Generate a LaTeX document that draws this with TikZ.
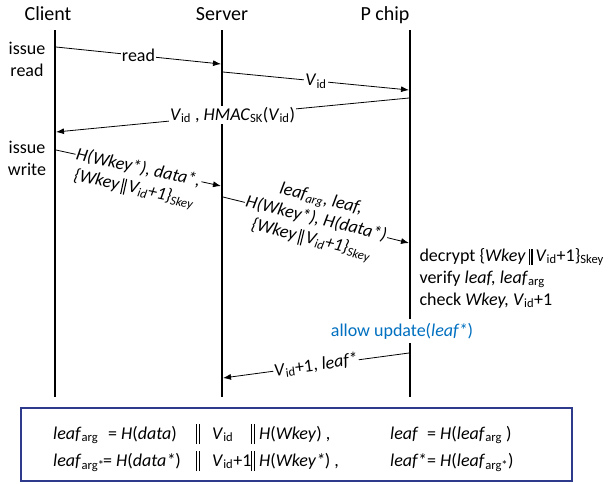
\documentclass[tikz,border=0pt]{standalone}
\usepackage{fontspec}
\setmainfont{Carlito}
\usetikzlibrary{arrows.meta}
\definecolor{boxblue}{RGB}{46,58,140}
\definecolor{updblue}{RGB}{0,112,192}
\newcommand{\dbar}{\rule[-3.5pt]{1.1pt}{16pt}\hspace{1.6pt}\rule[-3.5pt]{1.1pt}{16pt}}
\newcommand{\tallbar}{\rule[-5pt]{1.1pt}{20pt}\hspace{1.8pt}\rule[-5pt]{1.1pt}{20pt}}
\newcommand{\ids}[1]{\textsubscript{\upshape #1}}

\begin{document}
\begin{tikzpicture}[x=1pt,y=-1pt,font=\fontsize{18}{22}\selectfont,
	msg/.style={-{Latex[length=8pt,width=6pt]},line width=0.8pt},
	life/.style={line width=1.6pt},
	lbl/.style={fill=white,inner sep=1pt}]
	\useasboundingbox (0,0) rectangle (611,483);

	\node[anchor=base,font=\fontsize{20}{24}\selectfont] (client) at (48,20) {Client};
	\node[anchor=base,font=\fontsize{20}{24}\selectfont] (server) at (222,20) {Server};
	\node[anchor=base,font=\fontsize{20}{24}\selectfont] (pchip) at (385,20) {P chip};

	\coordinate (cl-top) at (55,30);
	\coordinate (cl-bot) at (55,397);
	\coordinate (sv-top) at (222,30);
	\coordinate (sv-bot) at (222,397);
	\coordinate (pc-top) at (410,30);
	\coordinate (pc-bot) at (410,397);

	\draw[life] (cl-top) -- (cl-bot);
	\draw[life] (sv-top) -- (sv-bot);
	\draw[life] (pc-top) -- (pc-bot);

	\node[align=center] (issread) at (27,59) {issue\\read};
	\node[align=center] (isswrite) at (27,158) {issue\\write};

	\coordinate (c1) at (56,47);
	\coordinate (s1) at (221,64);
	\coordinate (s2) at (223,72);
	\coordinate (p1) at (409,90);
	\coordinate (p2) at (409,98);
	\coordinate (c2) at (56,132);
	\coordinate (c3) at (56,150);
	\coordinate (s3) at (221,186);
	\coordinate (s4) at (223,197);
	\coordinate (p3) at (409,243);
	\coordinate (p4) at (409,353);
	\coordinate (s5) at (223,378);

	\draw[msg] (c1) -- node[lbl] (rd) {read} (s1);
	\draw[msg] (s2) -- node[lbl] (vid) {\textit{V}\ids{id}} (p1);
	\draw[msg] (p2) -- node[lbl] (hmac) {\textit{V}\ids{id} , \textit{HMAC}\ids{SK}(\textit{V}\ids{id})} (c2);
	\draw[msg] (c3) -- node[lbl,sloped] (wr1) {\itshape H(Wkey*), data*,}
		node[sloped,below=9pt] (wr2) {\itshape\{Wkey\,\dbar\,V\textsubscript{id}+1\}\textsubscript{Skey}} (s3);
	\draw[msg] (s4) -- node[lbl,sloped,align=center,font=\fontsize{18}{21}\selectfont\itshape] (upd)
		{leaf\textsubscript{arg}, leaf,\\H(Wkey*), H(data*)\\\{Wkey\,\dbar\,V\textsubscript{id}+1\}\textsubscript{Skey}} (p3);

	\node[anchor=west,align=left] (check) at (416,278)
		{decrypt \{\textit{Wkey}\,\dbar\,\textit{V}\ids{id}+1\}\ids{Skey}\\
		verify \textit{leaf, leaf}\ids{arg}\\
		check \textit{Wkey, V}\ids{id}+1};

	\node[fill=white,inner sep=4pt,text=updblue] (allow) at (402,331) {allow update(\textit{leaf*})};

	\draw[msg] (p4) -- node[lbl,sloped] (ret) {\textit{V}\ids{id}+1, \textit{leaf*}} (s5);

	\draw[boxblue,line width=1.4pt] (21,408) rectangle (572,481);

	\node[anchor=base west,inner sep=0pt] (rowa) at (53,439)
		{\makebox[50pt][l]{\textit{leaf}\ids{arg}}%
		\makebox[87pt][l]{\hspace{5pt}= \textit{H}(\textit{data})}%
		\makebox[15pt][c]{\tallbar}%
		\makebox[42pt][l]{\hspace{7pt}\textit{V}\ids{id}}%
		\makebox[12pt][c]{\tallbar}%
		\makebox[131pt][l]{\textit{H}(\textit{Wkey}) ,}%
		\makebox[37pt][l]{\textit{leaf}}%
		= \textit{H}(\textit{leaf}\ids{arg} )};
	\node[anchor=base west,inner sep=0pt] (rowb) at (53,466)
		{\makebox[50pt][l]{\textit{leaf}\ids{arg*}}%
		\makebox[87pt][l]{= \textit{H}(\textit{data*})}%
		\makebox[15pt][c]{\tallbar}%
		\makebox[42pt][l]{\hspace{7pt}\textit{V}\ids{id}+1}%
		\makebox[12pt][c]{\tallbar}%
		\makebox[131pt][l]{\textit{H}(\textit{Wkey*}) ,}%
		\makebox[37pt][l]{\textit{leaf*}}%
		= \textit{H}(\textit{leaf}\ids{arg*})};

\end{tikzpicture}
\end{document}
